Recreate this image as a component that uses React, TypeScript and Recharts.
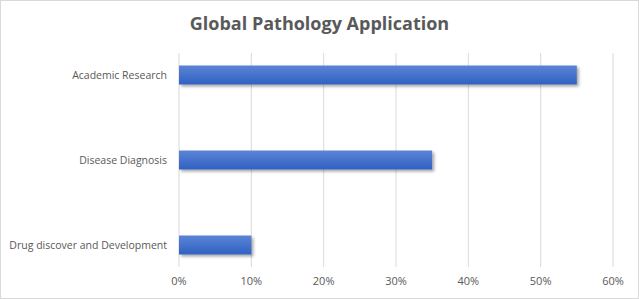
import { BarChart, Bar, XAxis, YAxis, CartesianGrid } from 'recharts'

const categories = ['Academic Research', 'Disease Diagnosis', 'Drug discover and Development']
const shares = [55, 35, 10]
const xTicks = [0, 10, 20, 30, 40, 50, 60]

const data = categories.map((name, i) => ({ pos: i, name, value: shares[i] }))

const FONT = '"Open Sans", "Noto Sans", sans-serif'
const GRAY = '#595959'

// plain text tick so long category names stay on one line
const CategoryTick = ({ x, y, payload }: any) => (
  <text
    x={x - 4}
    y={y}
    dy={4}
    textAnchor="end"
    fill={GRAY}
    fontSize={10.5}
    fontFamily={FONT}
  >
    {categories[payload.value] ?? ''}
  </text>
)

const App = () => {
  return (
    <div
      style={{
        position: 'fixed',
        left: 0,
        top: 0,
        width: 639,
        height: 299,
        border: '1px solid #d9d9d9',
        boxSizing: 'border-box',
        background: '#fff',
        fontFamily: FONT,
      }}
    >
      <div
        style={{
          position: 'absolute',
          top: 10,
          left: 0,
          width: 637,
          textAlign: 'center',
          fontSize: 18,
          fontWeight: 700,
          color: GRAY,
          fontFamily: '"Open Sans", sans-serif',
        }}
      >
        Global Pathology Application
      </div>
      <div style={{ position: 'absolute', left: -1, top: -1 }}>
        <BarChart
          width={639}
          height={299}
          data={data}
          layout="vertical"
          margin={{ top: 53, right: 26, left: 0, bottom: 12 }}
        >
          <defs>
            <linearGradient id="barFill" x1="0" y1="0" x2="0" y2="1">
              <stop offset="0%" stopColor="#5b84d6" />
              <stop offset="100%" stopColor="#3161c2" />
            </linearGradient>
            <filter id="barShadow" x="-10%" y="-30%" width="130%" height="180%">
              <feDropShadow dx="2" dy="2" stdDeviation="1.5" floodColor="#000" floodOpacity="0.35" />
            </filter>
          </defs>
          <CartesianGrid horizontal={false} stroke="#d9d9d9" />
          <XAxis
            type="number"
            domain={[0, 60]}
            ticks={xTicks}
            tickFormatter={(v) => `${v}%`}
            axisLine={false}
            tickLine={false}
            tickSize={6}
            tickMargin={4}
            height={20}
            tick={{ fill: GRAY, fontSize: 11, fontFamily: FONT }}
          />
          <YAxis
            type="number"
            dataKey="pos"
            domain={[-0.259, 2.259]}
            ticks={[0, 1, 2]}
            axisLine={false}
            tickLine={false}
            width={179}
            tick={<CategoryTick />}
          />
          <Bar
            dataKey="value"
            barSize={19}
            fill="url(#barFill)"
            filter="url(#barShadow)"
            isAnimationActive={false}
          />
        </BarChart>
      </div>
    </div>
  )
}

export default App
